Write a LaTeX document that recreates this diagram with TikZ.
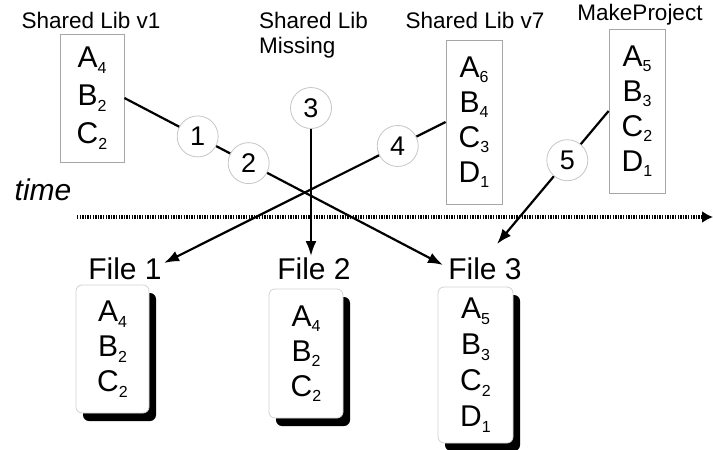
\documentclass[tikz,border=0pt]{standalone}
\usepackage{fontspec}
\setmainfont{Liberation Sans}
\usetikzlibrary{arrows.meta,shadows}
\newcommand\sbs[1]{\raisebox{-0.35ex}{\fontsize{16}{16}\selectfont #1}}
\begin{document}
\begin{tikzpicture}[x=1pt,y=-1pt,
  lib/.style={draw=gray!70, line width=0.8pt, inner sep=0pt, align=center},
  file/.style={draw=gray!35, fill=white, rounded corners=6pt, line width=0.8pt, inner sep=0pt, align=center,
     drop shadow={shadow xshift=7pt, shadow yshift=-8pt, fill=black, opacity=1}},
  lbl/.style={font=\fontsize{22.5}{25}\selectfont, inner sep=0pt},
  flbl/.style={font=\fontsize{30}{30}\selectfont, inner sep=0pt},
  circ/.style={circle, draw=gray!45, fill=white, line width=0.8pt, minimum size=41pt, inner sep=0pt, font=\fontsize{27}{27}\selectfont},
  conn/.style={line width=2.2pt, -{Latex[length=15pt,width=11pt]}},
]
\useasboundingbox (0,0) rectangle (713,450);

% labels
\node[lbl] (lv1) at (91,20) {Shared Lib v1};
\node[lbl, align=left, anchor=west] (lmiss) at (259,35) {Shared Lib\\Missing};
\node[lbl] (lv7) at (475,20) {Shared Lib v7};
\node[lbl] (lmp) at (640,15) {MakeProject};
\node[font=\fontsize{30}{30}\selectfont\itshape, inner sep=0pt] (ltime) at (43,190) {time};

% library boxes
\node[lib, font=\fontsize{30}{38}\selectfont, minimum width=64pt, minimum height=128pt] (v1) at (92,98) {A\sbs{4}\\B\sbs{2}\\C\sbs{2}};
\node[lib, font=\fontsize{30}{35}\selectfont, minimum width=56pt, minimum height=164pt] (v7) at (474,122) {A\sbs{6}\\B\sbs{4}\\C\sbs{3}\\D\sbs{1}};
\node[lib, font=\fontsize{30}{35}\selectfont, minimum width=56pt, minimum height=164pt] (mp) at (637,111) {A\sbs{5}\\B\sbs{3}\\C\sbs{2}\\D\sbs{1}};

% time line
\coordinate (ts) at (77,217);
\coordinate (te) at (713,217);
\draw[line width=3.2pt, dash pattern=on 1.4pt off 1.2pt, -{Latex[length=11pt,width=12pt]}] (ts) -- (te);

% file labels and boxes
\node[flbl] (lf1) at (125,269) {File 1};
\node[flbl] (lf2) at (314,269) {File 2};
\node[flbl] (lf3) at (485,269) {File 3};
\node[file, font=\fontsize{30}{35}\selectfont, minimum width=73pt, minimum height=128pt] (f1) at (112.5,349) {A\sbs{4}\\B\sbs{2}\\C\sbs{2}};
\node[file, font=\fontsize{30}{35}\selectfont, minimum width=74pt, minimum height=129pt] (f2) at (306,353.5) {A\sbs{4}\\B\sbs{2}\\C\sbs{2}};
\node[file, font=\fontsize{30}{36}\selectfont, minimum width=75pt, minimum height=156pt] (f3) at (475.5,365) {A\sbs{5}\\B\sbs{3}\\C\sbs{2}\\D\sbs{1}};

% arrow tips
\coordinate (t1) at (164,263);
\coordinate (t2) at (311,256);
\coordinate (t3a) at (443,265);
\coordinate (t3b) at (497,244);

% connectors
\node[circ] (c3) at (311,108) {3};
\draw[conn] (c3) -- (t2);
\draw[conn] (v1.east) -- node[circ, pos=0.23] (c1) {1} node[circ, pos=0.39] (c2) {2} (t3a);
\draw[conn] (v7.west) -- node[circ, pos=0.17] (c4) {4} (t1);
\draw[conn] (mp.west) -- node[circ, pos=0.37] (c5) {5} (t3b);
\end{tikzpicture}
\end{document}
